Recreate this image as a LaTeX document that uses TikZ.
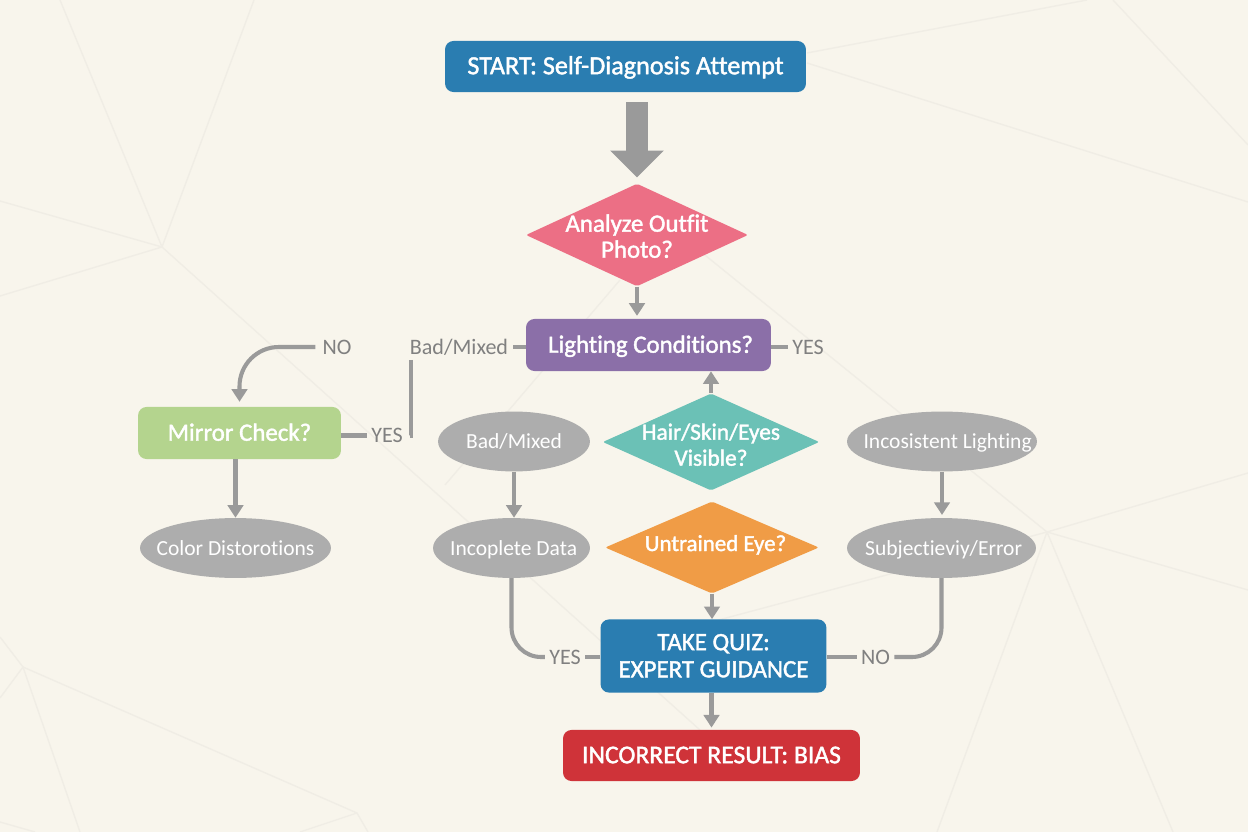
\documentclass[tikz,border=0pt]{standalone}
\usepackage{fontspec}
\setmainfont{Carlito}[Ligatures=NoCommon]
\newfontfamily\semibold{Carlito}[FakeBold=1.6,Ligatures=NoCommon]
\usetikzlibrary{arrows.meta,shapes.geometric}

\definecolor{paper}{HTML}{F8F5EC}
\definecolor{crease}{HTML}{F0EDE5}
\definecolor{wire}{HTML}{9A9A9A}
\definecolor{ovalgray}{HTML}{ADADAD}
\definecolor{labelgray}{HTML}{808080}
\definecolor{blueish}{HTML}{2A7DB1}
\definecolor{pinkish}{HTML}{EC6F85}
\definecolor{purplish}{HTML}{8B6FA8}
\definecolor{greenish}{HTML}{B4D48E}
\definecolor{tealish}{HTML}{6BC1B6}
\definecolor{orangeish}{HTML}{F09C46}
\definecolor{reddish}{HTML}{CF3339}

\begin{document}
\begin{tikzpicture}[x=0.25mm,y=-0.25mm,font=\fontsize{17}{19}\selectfont]
    \tikzstyle{proc}=[rectangle,rounded corners=6pt,text=white,inner sep=0pt,align=center,text height=11pt,text depth=0pt,font=\fontsize{17.7}{19.3}\selectfont\semibold]
    \tikzstyle{cond}=[diamond,aspect=2,rounded corners=1.5pt,text=white,inner xsep=-40pt,inner ysep=-8pt,align=center,text height=32.3pt,text depth=0pt,font=\fontsize{17.7}{18.5}\selectfont\semibold]
    \tikzstyle{oval}=[ellipse,fill=ovalgray,text=white,inner xsep=-20pt,inner ysep=-5pt,minimum height=42.6pt,text height=10pt,text depth=0pt,font=\fontsize{15.3}{18}\selectfont]
    \tikzstyle{tag}=[text=labelgray,inner sep=3pt,text height=10pt,text depth=0pt,font=\fontsize{15.7}{18}\selectfont]
    \tikzstyle{stub}=[draw=wire,line width=2.9pt]
    \tikzstyle{flow}=[stub,-{Triangle[length=9pt,width=11pt]}]
    \tikzstyle{bigflow}=[draw=wire,line width=16pt,-{Triangle[length=19pt,width=37pt]},shorten <=7pt,shorten >=4.3pt]

    \fill[paper] (0,0) rectangle (1248,832);
    \useasboundingbox (0,0) rectangle (1248,832);

    % creases in the paper
    \foreach \xa/\ya/\xb/\yb in {162/247/60/0,162/247/254/0,162/247/0/201,162/247/0/296,162/247/700/730,
        445/485/620/280,690/243/1047/532,1047/532/1248/473,1047/532/1248/590,1047/532/1173/832,
        1047/532/937/832,1047/532/700/625,807/53/1087/0,807/63/1248/202,1113/0/1248/145,
        23/667/0/637,23/667/0/698,23/667/80/832,23/667/357/813,357/813/300/832,357/813/368/832,0/822/35/832}
        \draw[crease,line width=1pt] (\xa,\ya) -- (\xb,\yb);

    \node[proc,fill=blueish,minimum width=256.7pt,minimum height=36.3pt,font=\fontsize{18.6}{20}\selectfont\semibold] (start) at (625.5,66.5) {START: Self-Diagnosis Attempt};
    \node[cond,fill=pinkish,minimum width=158pt,minimum height=73pt] (analyze) at (637,235) {Analyze Outfit\\Photo?};
    \node[proc,fill=purplish,minimum width=174.2pt,minimum height=37pt] (lighting) at (648.5,345) {\hspace*{3pt}Lighting Conditions?};
    \node[proc,fill=greenish,minimum width=144.3pt,minimum height=37pt] (mirror) at (239.5,433) {Mirror Check?};
    \node[cond,fill=tealish,minimum width=154pt,minimum height=69pt,text height=33.7pt,font=\fontsize{16.6}{18.5}\selectfont\semibold] (hair) at (711,442) {Hair/Skin/Eyes\\Visible?};
    \node[cond,fill=orangeish,minimum width=152pt,minimum height=65.5pt,text height=11pt,text depth=6pt,font=\fontsize{16.3}{18.5}\selectfont\semibold] (eye) at (712,547.5) {\hspace*{5pt}Untrained Eye?};
    \node[proc,fill=blueish,minimum width=160.7pt,minimum height=52pt,text height=30.3pt] (quiz) at (713.5,656) {TAKE QUIZ:\\EXPERT GUIDANCE};
    \node[proc,fill=reddish,minimum width=211.2pt,minimum height=36.3pt,font=\fontsize{18.2}{20}\selectfont\semibold] (result) at (711.5,755.5) {INCORRECT RESULT: BIAS};

    \node[oval,minimum width=135.8pt] (distort) at (235.5,548) {Color Distorotions};
    \node[oval,minimum width=108pt] (badoval) at (514,441.5) {Bad/Mixed};
    \node[oval,minimum width=111.6pt] (incomplete) at (511.5,548) {\hspace{3pt}Incoplete Data};
    \node[oval,minimum width=135.1pt] (inconsistent) at (942,441.5) {\hspace{8pt}Incosistent Lighting};
    \node[oval,minimum width=134.4pt] (subjective) at (941.5,548) {\hspace{3pt}Subjectieviy/Error};

    \node[tag] (notop) at (337,347) {NO};
    \node[tag] (badtop) at (459,347) {Bad/Mixed};
    \node[tag] (yesright) at (808,347) {YES};
    \node[tag] (yesmirror) at (387,435.5) {YES};
    \node[tag] (yesquiz) at (565,657) {YES};
    \node[tag] (noquiz) at (875.5,657) {NO};

    \coordinate (turn) at (411,360);

    \draw[bigflow] (start.south -| analyze.north) -- (analyze.north);
    \draw[flow,shorten >=2pt] (analyze.south) -- (analyze.south |- lighting.north);
    \draw[flow] (hair.north) -- (hair.north |- lighting.south);
    \draw[flow] (eye.south) -- (eye.south |- quiz.north);
    \draw[flow,shorten >=1.5pt] (quiz.south -| result.north) -- (result.north);
    \draw[flow] (mirror.south -| distort.north) -- (distort.north);
    \draw[flow] (badoval.south) -- (badoval.south |- incomplete.north);
    \draw[flow,shorten >=2pt] (inconsistent.south) -- (inconsistent.south |- subjective.north);
    \draw[flow,rounded corners=28pt,shorten >=3.5pt,shorten <=2pt] (notop.west) -| (mirror.north);

    \draw[stub] (lighting.west |- badtop) -- (badtop.east);
    \draw[stub] (lighting.east |- yesright) -- (yesright.west);
    \draw[stub] (mirror.east |- yesmirror) -- (yesmirror.west);
    \draw[stub,shorten >=2pt] (turn) |- (yesmirror.east);
    \draw[stub,rounded corners=21pt] (incomplete.south) |- (yesquiz.west);
    \draw[stub] (quiz.west |- yesquiz) -- (yesquiz.east);
    \draw[stub,rounded corners=21pt] (subjective.south) |- (noquiz.east);
    \draw[stub] (quiz.east |- noquiz) -- (noquiz.west);
\end{tikzpicture}
\end{document}
